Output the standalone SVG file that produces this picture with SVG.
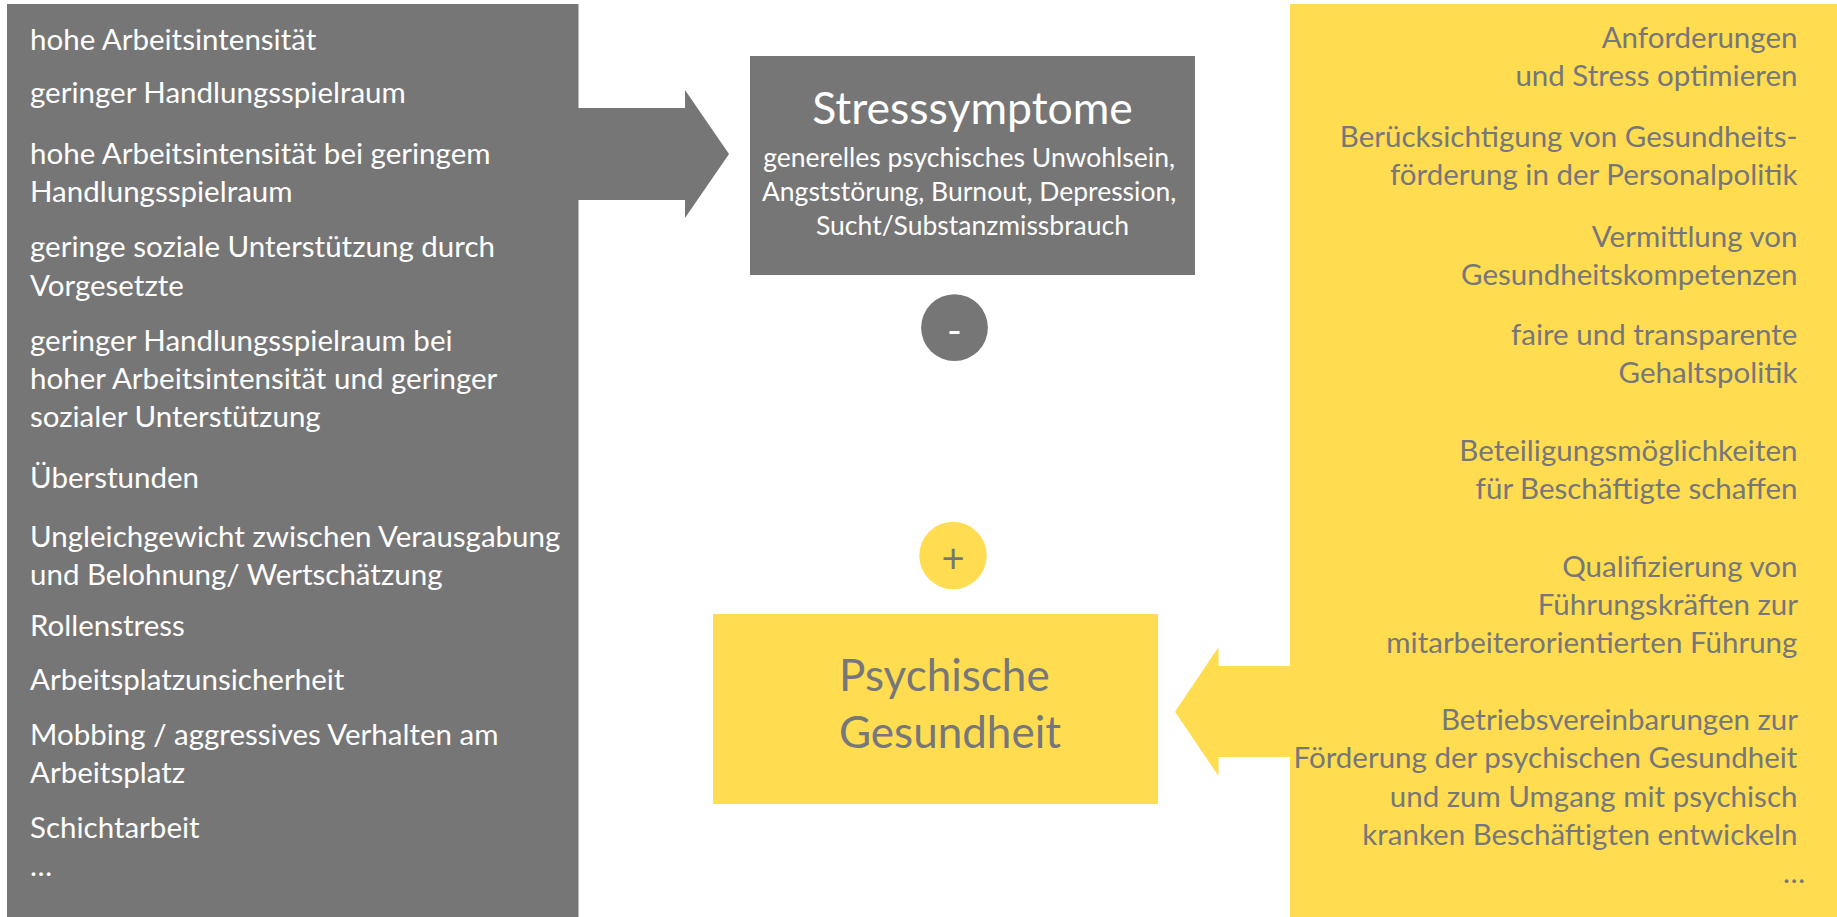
<svg xmlns="http://www.w3.org/2000/svg" width="1837" height="917" viewBox="0 0 1837 917">
<style>
text{font-family:Lato,"Open Sans","Liberation Sans",sans-serif}
.g{fill:#767676}
.y{fill:#FFDC50}
.w{fill:#ffffff}
.t{fill:#76777a}
.list{font-size:29.5px}
.r{text-anchor:end}
.c{text-anchor:middle}
</style>
<rect width="1837" height="917" fill="#ffffff"/>
<g id="connectors">
<polygon id="arrow-gray" class="g" points="578,108 685,108 685,90 729,154 685,218 685,200 578,200"/>
<polygon id="arrow-yellow" class="y" points="1290,666 1218.5,666 1218.5,647 1175,711.7 1218.5,776 1218.5,757 1290,757"/>
</g>
<g id="stressoren">
<rect class="g" x="7" y="4" width="571.5" height="913"/>
<text class="w list" x="30">
<tspan x="30" y="50">hohe Arbeitsintensität</tspan>
<tspan x="30" y="103">geringer Handlungsspielraum</tspan>
<tspan x="30" y="164">hohe Arbeitsintensität  bei geringem</tspan>
<tspan x="30" y="202">Handlungsspielraum</tspan>
<tspan x="30" y="257">geringe soziale Unterstützung durch</tspan>
<tspan x="30" y="296">Vorgesetzte</tspan>
<tspan x="30" y="351">geringer Handlungsspielraum bei</tspan>
<tspan x="30" y="389">hoher Arbeitsintensität und geringer</tspan>
<tspan x="30" y="427">sozialer Unterstützung</tspan>
<tspan x="30" y="488">Überstunden</tspan>
<tspan x="30" y="547">Ungleichgewicht zwischen Verausgabung</tspan>
<tspan x="30" y="585">und Belohnung/ Wertschätzung</tspan>
<tspan x="30" y="636">Rollenstress</tspan>
<tspan x="30" y="690">Arbeitsplatzunsicherheit</tspan>
<tspan x="30" y="745">Mobbing / aggressives  Verhalten am</tspan>
<tspan x="30" y="783">Arbeitsplatz</tspan>
<tspan x="30" y="838">Schichtarbeit</tspan>
<tspan x="30" y="876">…</tspan>
</text>
</g>
<g id="stresssymptome">
<rect class="g" x="750" y="56" width="445" height="219"/>
<text class="w c" x="972.5" y="124" font-size="44.5">Stresssymptome</text>
<text class="w c" font-size="26.5">
<tspan x="972.5" y="167">generelles psychisches Unwohlsein,</tspan>
<tspan x="972.5" y="201">Angststörung, Burnout, Depression,</tspan>
<tspan x="972.5" y="235">Sucht/Substanzmissbrauch</tspan>
</text>
</g>
<g id="minus">
<circle class="g" cx="954.5" cy="327.7" r="33.4"/>
<text class="w c" x="954.5" y="345" font-size="40">-</text>
</g>
<g id="plus">
<circle class="y" cx="953" cy="555.5" r="33.7"/>
<text class="t c" x="953" y="573" font-size="40">+</text>
</g>
<g id="psychische-gesundheit">
<rect class="y" x="713" y="614" width="445" height="190"/>
<text class="t c" font-size="44">
<tspan x="950" y="691">Psychische</tspan>
<tspan x="950" y="748">Gesundheit</tspan>
</text>
</g>
<g id="massnahmen">
<rect class="y" x="1290" y="4" width="547" height="913"/>
<text class="t list r">
<tspan x="1805" y="48">Anforderungen</tspan>
<tspan x="1805" y="86">und Stress optimieren</tspan>
<tspan x="1805" y="147">Berücksichtigung von Gesundheits-</tspan>
<tspan x="1805" y="185">förderung in der Personalpolitik</tspan>
<tspan x="1805" y="247">Vermittlung von</tspan>
<tspan x="1805" y="285">Gesundheitskompetenzen</tspan>
<tspan x="1805" y="345">faire und transparente</tspan>
<tspan x="1805" y="383">Gehaltspolitik</tspan>
<tspan x="1805" y="461">Beteiligungsmöglichkeiten</tspan>
<tspan x="1805" y="499">für Beschäftigte schaffen</tspan>
<tspan x="1805" y="577">Qualifizierung von</tspan>
<tspan x="1805" y="615">Führungskräften zur</tspan>
<tspan x="1805" y="653">mitarbeiterorientierten Führung</tspan>
<tspan x="1805" y="730">Betriebsvereinbarungen zur</tspan>
<tspan x="1805" y="768">Förderung der psychischen Gesundheit</tspan>
<tspan x="1805" y="807">und zum Umgang mit psychisch</tspan>
<tspan x="1805" y="845">kranken Beschäftigten entwickeln</tspan>
<tspan x="1805" y="883">…</tspan>
</text>
</g>
</svg>
